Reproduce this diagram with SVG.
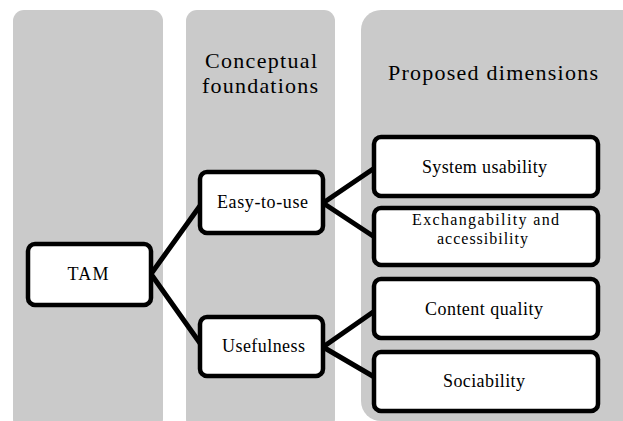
<svg xmlns="http://www.w3.org/2000/svg" width="623" height="421" viewBox="0 0 623 421">
<style>
.col{fill:#cacaca;stroke:none}
.box{fill:#ffffff;stroke:#000000;stroke-width:4.5}
.hdr{font-family:"Liberation Serif","Times New Roman",serif;font-size:22px;fill:#000;text-anchor:middle}
.lbl{font-family:"Liberation Serif","Times New Roman",serif;font-size:18px;fill:#000;text-anchor:middle}
.sm{font-size:16px}
.con line{stroke:#000;stroke-width:5;stroke-linecap:round}
</style>
<rect width="623" height="421" fill="#ffffff"/>
<g id="col-tam"><rect class="col" x="13" y="10" width="150" height="420" rx="11"/></g>
<g id="col-foundations">
<rect class="col" x="186" y="10" width="149" height="420" rx="11"/>
<text class="hdr" x="261" y="68" textLength="112" lengthAdjust="spacing">Conceptual</text>
<text class="hdr" x="260" y="93" textLength="116" lengthAdjust="spacing">foundations</text>
</g>
<g id="col-dimensions">
<rect class="col" x="361" y="10" width="280" height="411" rx="20"/>
<text class="hdr" x="493" y="80" textLength="210" lengthAdjust="spacing">Proposed dimensions</text>
</g>
<g class="con" id="connectors">
<line x1="151" y1="274" x2="202" y2="203"/>
<line x1="151" y1="274" x2="202" y2="346"/>
<line x1="323" y1="203" x2="376" y2="167"/>
<line x1="323" y1="203" x2="376" y2="238"/>
<line x1="323" y1="347" x2="376" y2="310"/>
<line x1="323" y1="347" x2="376" y2="378"/>
</g>
<g id="tam"><rect class="box" x="28" y="244" width="123" height="61" rx="7"/><text class="lbl" x="88" y="280" textLength="41" lengthAdjust="spacing">TAM</text></g>
<g id="easy"><rect class="box" x="200" y="172" width="123" height="61" rx="7"/><text class="lbl" x="262.5" y="208" textLength="91" lengthAdjust="spacing">Easy-to-use</text></g>
<g id="usefulness"><rect class="box" x="200" y="317" width="123" height="59" rx="7"/><text class="lbl" x="263.5" y="352" textLength="83" lengthAdjust="spacing">Usefulness</text></g>
<g id="system"><rect class="box" x="374" y="137" width="224" height="59" rx="7"/><text class="lbl" x="484.5" y="173" textLength="125" lengthAdjust="spacing">System usability</text></g>
<g id="exchange"><rect class="box" x="374" y="208" width="224" height="57" rx="7"/><text class="lbl sm" x="485.5" y="225" textLength="147" lengthAdjust="spacing">Exchangability and</text><text class="lbl sm" x="482.5" y="244" textLength="91" lengthAdjust="spacing">accessibility</text></g>
<g id="content"><rect class="box" x="374" y="279" width="224" height="59" rx="7"/><text class="lbl" x="484" y="315" textLength="118" lengthAdjust="spacing">Content quality</text></g>
<g id="sociability"><rect class="box" x="374" y="352" width="224" height="59" rx="7"/><text class="lbl" x="484" y="387" textLength="82" lengthAdjust="spacing">Sociability</text></g>
</svg>
